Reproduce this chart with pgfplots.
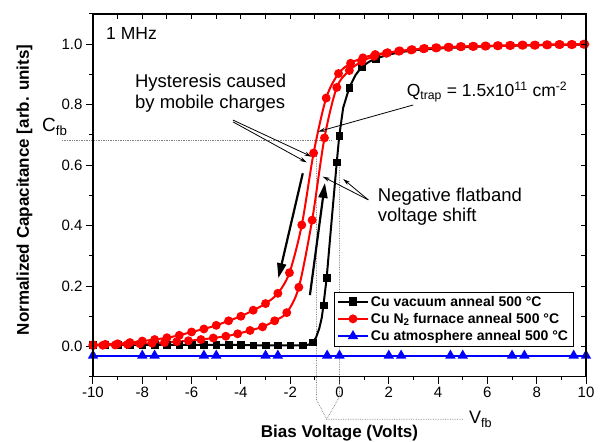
\documentclass[border=0pt]{standalone}
\usepackage{fontspec}
\setmainfont{Liberation Sans}
\usepackage{pgfplots}
\pgfplotsset{compat=1.18}
\usetikzlibrary{arrows.meta}

\pgfplotstableread{
x y
-10 0.005
-9.5 0.005
-9 0.005
-8.5 0.005
-8 0.005
-7.5 0.005
-7 0.005
-6.5 0.005
-6 0.005
-5.5 0.005
-5 0.005
-4.5 0.005
-4 0.005
-3.5 0.004
-3 0.004
-2.5 0.004
-2 0.004
-1.5 0.004
-1.25 0.006
-1.08 0.014
-0.95 0.03
-0.82 0.06
-0.72 0.095
-0.65 0.137
-0.52 0.228
-0.38 0.36
-0.24 0.49
-0.11 0.61
-0.01 0.697
0.15 0.79
0.4 0.857
0.65 0.898
0.9 0.925
1.2 0.942
1.46 0.952
2 0.966
2.5 0.974
3 0.98
4 0.986
5 0.99
6 0.993
7 0.995
8 0.997
9 0.998
10 0.999
}\vacline

\pgfplotstableread{
x y
-10 0.005
-9.5 0.005
-9 0.005
-8.5 0.005
-8 0.005
-7.5 0.005
-7 0.005
-6.5 0.005
-6 0.005
-5.5 0.005
-5 0.005
-4.5 0.005
-4 0.005
-3.5 0.004
-3 0.004
-2.5 0.004
-2 0.004
-1.5 0.004
-1.08 0.014
-0.65 0.137
-0.52 0.228
-0.11 0.61
-0.01 0.697
0.4 0.857
0.9 0.925
1.46 0.952
}\vacmarks

\pgfplotstableread{
x y
-10 0.006
-9.5 0.007
-9 0.009
-8.5 0.013
-8 0.018
-7.5 0.023
-7 0.029
-6.5 0.037
-6 0.048
-5.5 0.058
-5 0.070
-4.5 0.085
-4 0.100
-3.5 0.120
-3 0.142
-2.5 0.176
-2.03 0.244
-1.53 0.402
-1.05 0.640
-0.54 0.822
-0.04 0.903
0.45 0.937
0.95 0.955
1.45 0.966
1.95 0.972
2.45 0.978
2.95 0.982
3.45 0.986
3.95 0.988
4.45 0.990
4.95 0.992
5.45 0.993
5.95 0.994
6.45 0.995
6.95 0.996
7.45 0.997
7.95 0.997
8.45 0.998
8.95 0.999
9.45 0.999
9.95 1.0
}\redleft

\pgfplotstableread{
x y
-10 0.003
-9.6 0.004
-9.1 0.005
-8.6 0.007
-8.1 0.009
-7.6 0.011
-7.1 0.013
-6.6 0.016
-6.13 0.019
-5.62 0.023
-5.12 0.028
-4.61 0.034
-4.13 0.042
-3.63 0.053
-3.12 0.065
-2.63 0.085
-2.14 0.112
-1.65 0.196
-1.11 0.418
-0.61 0.690
-0.11 0.857
0.4 0.913
0.9 0.943
1.4 0.960
1.9 0.970
2.4 0.977
2.9 0.981
3.4 0.985
3.9 0.988
4.4 0.990
4.9 0.992
5.4 0.993
5.9 0.994
6.4 0.995
6.9 0.996
7.4 0.997
7.9 0.997
8.4 0.998
8.9 0.999
9.4 0.999
9.9 1.0
}\redright

\pgfplotstableread{
x y
-10 -0.03
-8 -0.03
-7.5 -0.03
-5.5 -0.03
-5 -0.03
-3 -0.03
-2.5 -0.03
-0.5 -0.03
0 -0.03
2 -0.03
2.5 -0.03
4.5 -0.03
5 -0.03
7 -0.03
7.5 -0.03
9.5 -0.03
10 -0.03
}\atmos

\begin{document}
\begin{tikzpicture}
\begin{axis}[
  width=493pt, height=362.7pt, scale only axis,
  xmin=-10, xmax=10, ymin=-0.1, ymax=1.1,
  clip=false,
  xtick={-10,-8,-6,-4,-2,0,2,4,6,8,10},
  minor xtick={-9,-7,-5,-3,-1,1,3,5,7,9},
  ytick={0,0.2,0.4,0.6,0.8,1.0},
  minor ytick={-0.1,0.1,0.3,0.5,0.7,0.9,1.1},
  xtick pos=left, ytick pos=left,
  tick align=outside,
  major tick length=7pt, minor tick length=3.5pt,
  every tick/.style={black, line width=1pt},
  axis line style={line width=1.2pt},
  /pgf/number format/assume math mode=true,
  tick label style={font=\fontsize{15}{17}\selectfont},
  yticklabel style={/pgf/number format/.cd, fixed, fixed zerofill, precision=1},
  xlabel={Bias Voltage (Volts)},
  ylabel={Normalized Capacitance [arb. units]},
  label style={font=\fontsize{17}{20}\selectfont\bfseries},
  xlabel style={at={(axis description cs:0.5,-0.1663)}, anchor=base},
  ylabel style={at={(axis description cs:-0.139,0.515)}, anchor=center},
  legend style={at={(axis description cs:0.974,0.0846)}, anchor=south east,
    draw=black, fill=white, font=\fontsize{14}{16}\selectfont\bfseries,
    inner xsep=3pt, inner ysep=2pt, row sep=1.5pt},
  legend cell align=left,
  legend image code/.code={\draw[mark repeat=2,mark phase=2,#1] plot coordinates {(0pt,0pt) (15pt,0pt) (30pt,0pt)};},
]
\coordinate (BBsw) at (rel axis cs:-0.1886,-0.1773);
\coordinate (BBne) at (rel axis cs:1.0304,1.0386);

% dotted guide lines
\draw[densely dotted, gray, line width=0.7pt] (axis cs:-11.26,0.681) -- (axis cs:-0.34,0.681);
\draw[densely dotted, gray, line width=0.7pt] (axis cs:-0.93,0.63) -- (axis cs:-0.93,-0.177) -- (axis cs:-0.52,-0.241) -- (axis cs:5.02,-0.241);
\draw[densely dotted, gray, line width=0.7pt] (axis cs:0.0,0.60) -- (axis cs:0.0,-0.166) -- (axis cs:-0.52,-0.241);

\addplot[black, line width=2pt, forget plot] table {\vacline};
\addplot[black, only marks, mark=square*, mark size=3.3pt, forget plot] table {\vacmarks};
\addplot[red, line width=2pt, smooth, mark=*, mark size=3.4pt, forget plot] table {\redleft};
\addplot[red, line width=2pt, smooth, mark=*, mark size=3.4pt, forget plot] table {\redright};
\addplot[blue, line width=2pt, mark=triangle*, mark size=4pt, forget plot] table {\atmos};

\addlegendimage{black, line width=2pt, mark=square*, mark size=3.3pt}
\addlegendentry{Cu vacuum anneal 500 °C}
\addlegendimage{red, line width=2pt, mark=*, mark size=3.4pt}
\addlegendentry{Cu N\textsubscript{2} furnace anneal 500 °C}
\addlegendimage{blue, line width=2pt, mark=triangle*, mark size=4pt}
\addlegendentry{Cu atmosphere anneal 500 °C}

% thick arrows
\draw[black, line width=2.2pt, -{Triangle[length=15pt,width=9pt]}] (axis cs:-1.49,0.573) -- (axis cs:-2.48,0.226);
\draw[black, line width=2.2pt, -{Triangle[length=15pt,width=9pt]}] (axis cs:-1.2,0.17) -- (axis cs:-0.59,0.541);

% annotations
\node[anchor=base west, font=\fontsize{17.5}{20}\selectfont, inner sep=0pt] at (axis cs:-9.47,1.014) {1 MHz};
\node[anchor=base west, font=\fontsize{18.5}{20}\selectfont, inner sep=0pt] at (axis cs:-8.3,0.857) {Hysteresis caused};
\node[anchor=base west, font=\fontsize{18.5}{20}\selectfont, inner sep=0pt] at (axis cs:-8.3,0.789) {by mobile charges};
\draw[line width=0.8pt, -{Stealth[length=7pt,width=4pt]}] (axis cs:-4.32,0.749) -- (axis cs:-1.13,0.628);
\draw[line width=0.8pt, -{Stealth[length=7pt,width=4pt]}] (axis cs:-4.32,0.743) -- (axis cs:-1.33,0.609);

\node[anchor=base west, font=\fontsize{17.5}{20}\selectfont, inner sep=0pt] at (axis cs:2.72,0.826) {Q\textsubscript{trap} = 1.5x10\textsuperscript{11} cm\textsuperscript{-2}};
\draw[line width=0.8pt, -{Stealth[length=7pt,width=4pt]}] (axis cs:2.99,0.799) -- (axis cs:-0.86,0.711);

\node[anchor=base west, font=\fontsize{18.5}{20}\selectfont, inner sep=0pt] at (axis cs:1.55,0.481) {Negative flatband};
\node[anchor=base west, font=\fontsize{18.5}{20}\selectfont, inner sep=0pt] at (axis cs:1.55,0.415) {voltage shift};
\draw[line width=0.8pt, -{Stealth[length=7pt,width=4pt]}] (axis cs:1.17,0.485) -- (axis cs:-0.68,0.562);
\draw[line width=0.8pt, -{Stealth[length=7pt,width=4pt]}] (axis cs:1.17,0.485) -- (axis cs:0.15,0.554);

\node[anchor=base west, font=\fontsize{19}{20}\selectfont, inner sep=0pt] at (axis cs:-12.07,0.711) {C\textsubscript{fb}};
\node[anchor=base west, font=\fontsize{18}{20}\selectfont, inner sep=0pt] at (axis cs:5.25,-0.256) {V\textsubscript{fb}};
\end{axis}

\begin{axis}[
  width=493pt, height=362.7pt, scale only axis,
  xmin=-10, xmax=10, ymin=-0.1, ymax=1.1,
  xtick={-10,-9,-8,-7,-6,-5,-4,-3,-2,-1,0,1,2,3,4,5,6,7,8,9,10},
  ytick={-0.1,0,0.1,0.2,0.3,0.4,0.5,0.6,0.7,0.8,0.9,1.0,1.1},
  xtick pos=right, ytick pos=right,
  tick align=inside, major tick length=5pt,
  xticklabels={}, yticklabels={},
  every tick/.style={black, line width=1pt},
  axis line style={line width=1.2pt},
]
\end{axis}
\pgfresetboundingbox
\path[use as bounding box] (BBsw) rectangle (BBne);
\end{tikzpicture}
\end{document}
